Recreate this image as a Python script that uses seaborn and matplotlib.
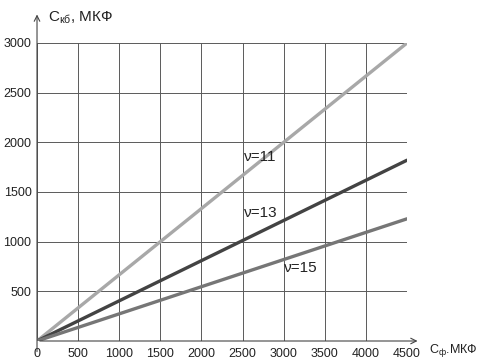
import numpy as np
import pandas as pd
import seaborn as sns
import matplotlib.pyplot as plt

# values
c_f = [0, 4500]
c_kb_11 = [0, 3000]
c_kb_13 = [0, 1820]
c_kb_15 = [0, 1230]
series = ["ν=11", "ν=13", "ν=15"]
x_ticks = [0, 500, 1000, 1500, 2000, 2500, 3000, 3500, 4000, 4500]
y_ticks = [500, 1000, 1500, 2000, 2500, 3000]

df = pd.DataFrame({
    "x": c_f * 3,
    "y": c_kb_11 + c_kb_13 + c_kb_15,
    "nu": [s for s in series for _ in c_f],
})

sns.set_style("white")
plt.rcParams["font.family"] = ["Liberation Sans", "DejaVu Sans"]

fig = plt.figure(figsize=(4.87, 3.61), dpi=100)
ax = fig.add_axes([0.076, 0.0554, 0.7597, 0.8255])

palette = {"ν=11": "#a8a8a8", "ν=13": "#434343", "ν=15": "#767676"}
sns.lineplot(data=df, x="x", y="y", hue="nu", palette=palette,
             linewidth=2.4, legend=False, ax=ax)

ax.set_xlim(0, 4500)
ax.set_ylim(0, 3000)
ax.set_xticks(x_ticks)
ax.set_yticks(y_ticks)
ax.grid(True, color="#5a5a5a", linewidth=0.7)
ax.tick_params(length=0, labelsize=9, colors="#222222")
ax.tick_params(axis="x", pad=5)
ax.tick_params(axis="y", pad=4)
ax.set_xlabel("")
ax.set_ylabel("")
for s in ax.spines.values():
    s.set_visible(False)

# axes with arrows
ax.annotate("", xy=(0, 1.105), xytext=(0, -0.045), xycoords="axes fraction",
            arrowprops=dict(arrowstyle="->", color="#444444", lw=0.8))
ax.annotate("", xy=(1.036, 0), xytext=(0, 0), xycoords="axes fraction",
            arrowprops=dict(arrowstyle="->", color="#444444", lw=0.8))

ax.text(0.03, 1.085, r"$\mathregular{C_{кб}}$, МКФ", transform=ax.transAxes,
        fontsize=11, va="center", ha="left", color="#222222")
ax.text(1.06, -0.032, r"$\mathregular{C_{ф}}$.МКФ", transform=ax.transAxes,
        fontsize=9, va="center", ha="left", color="#222222")

label_pos = {"ν=11": (2520, 1850), "ν=13": (2520, 1290), "ν=15": (3000, 735)}
for name in series:
    ax.text(*label_pos[name], name, fontsize=11, color="#222222",
            va="center", ha="left")

fig.savefig("out.png", dpi=100)
